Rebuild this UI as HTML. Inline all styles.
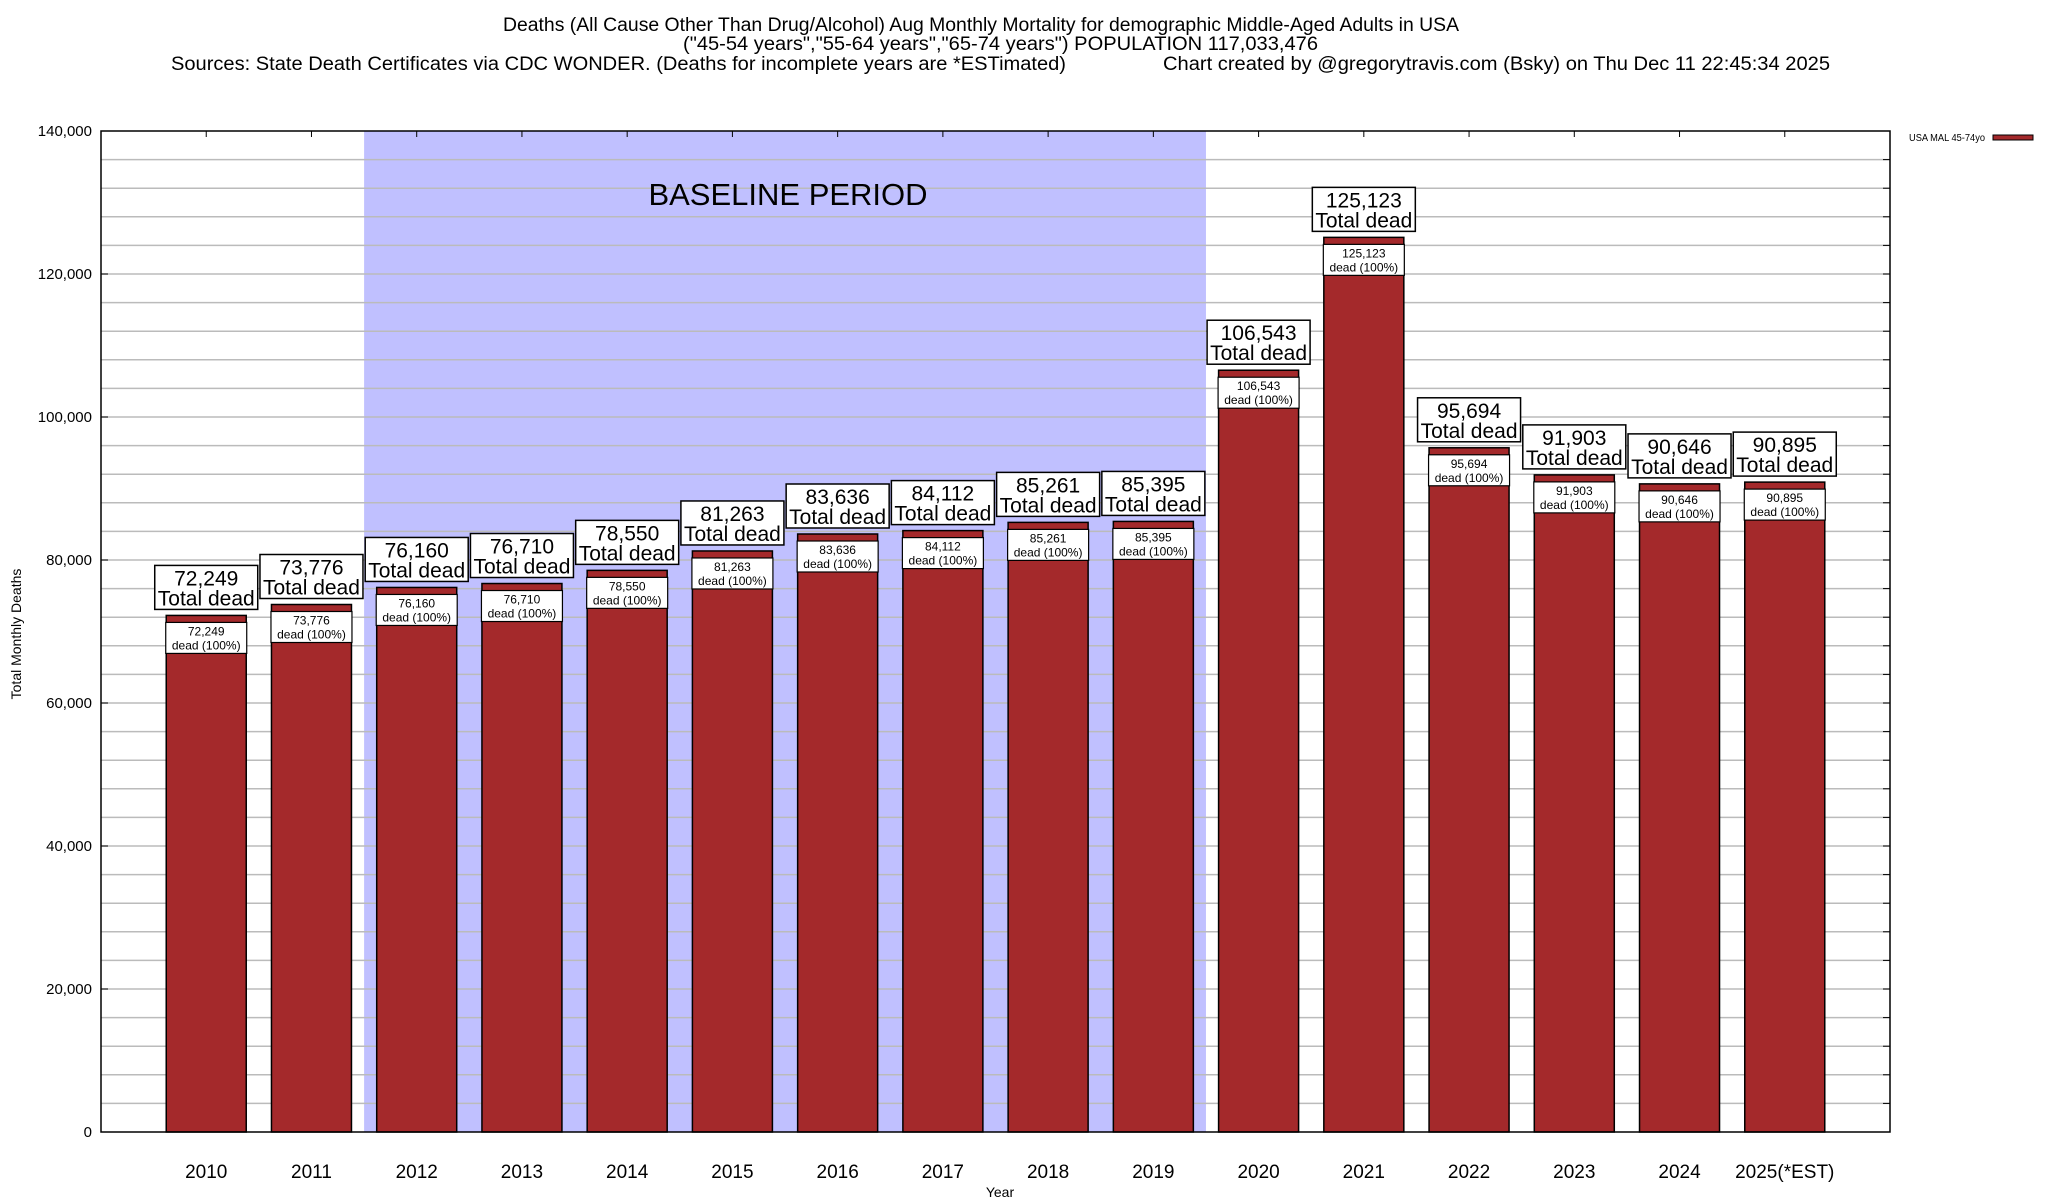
<!DOCTYPE html>
<html><head><meta charset="utf-8"><style>
html,body{margin:0;padding:0;background:#fff;}
svg{display:block;font-family:"Liberation Sans",Arial,sans-serif;}
</style></head><body>
<svg id="chart" width="2048" height="1200" viewBox="0 0 2048 1200">
<g font-size="19" fill="#000">
<text x="503" y="31" textLength="956" lengthAdjust="spacingAndGlyphs">Deaths (All Cause Other Than Drug/Alcohol) Aug Monthly Mortality for demographic Middle-Aged Adults in USA</text>
<text x="683" y="50" textLength="635" lengthAdjust="spacingAndGlyphs">("45-54 years","55-64 years","65-74 years") POPULATION 117,033,476</text>
<text x="171" y="70" textLength="895" lengthAdjust="spacingAndGlyphs">Sources: State Death Certificates via CDC WONDER. (Deaths for incomplete years are *ESTimated)</text>
<text x="1163" y="70" textLength="667" lengthAdjust="spacingAndGlyphs">Chart created by @gregorytravis.com (Bsky) on Thu Dec 11 22:45:34 2025</text>
</g>
<g id="grid"></g>
<text x="788" y="205" font-size="31" text-anchor="middle">BASELINE PERIOD</text>
<g id="bars"></g>
<g id="axes"></g>
<text x="1000" y="1197" font-size="14" text-anchor="middle">Year</text>
<text transform="translate(21,634) rotate(-90)" font-size="14" text-anchor="middle">Total Monthly Deaths</text>
<g>
<text x="1909" y="141" font-size="10" textLength="76" lengthAdjust="spacingAndGlyphs">USA MAL 45-74yo</text>
<rect x="1993" y="135" width="40" height="5" fill="#a4292b" stroke="#000" stroke-width="1"/>
</g>
</svg>
<script>
const categories=["2010","2011","2012","2013","2014","2015","2016","2017","2018","2019","2020","2021","2022","2023","2024","2025(*EST)"];
const values=[72249,73776,76160,76710,78550,81263,83636,84112,85261,85395,106543,125123,95694,91903,90646,90895];
const yTicks=[0,20000,40000,60000,80000,100000,120000,140000];
const baselineStart=2, baselineEnd=9;
const NS="http://www.w3.org/2000/svg";
const L=101,R=1890,T=131,B=1132,yMax=140000,slots=17;
const sx=i=>L+(i+1)*(R-L)/slots;
const step=(R-L)/slots;
const sy=v=>B-v*(B-T)/yMax;
const fmt=v=>v.toLocaleString("en-US");
function mk(tag,attrs,parent,text){const e=document.createElementNS(NS,tag);for(const k in attrs)e.setAttribute(k,attrs[k]);if(text!==undefined)e.textContent=text;parent.appendChild(e);return e;}
const grid=document.getElementById("grid"),bars=document.getElementById("bars"),axes=document.getElementById("axes");
const bl=mk("rect",{x:sx(baselineStart)-step/2,y:T,width:(baselineEnd-baselineStart+1)*step,height:B-T,fill:"#c0c0ff"},grid);


for(let v=4000;v<yMax;v+=4000){const y=sy(v);mk("line",{x1:L,x2:R,y1:y,y2:y,stroke:"#bbb","stroke-width":1.5},grid);mk("line",{x1:R-7,x2:R,y1:y,y2:y,stroke:"#000"},axes);}
yTicks.forEach(v=>{const y=sy(v);mk("line",{x1:L,x2:L+7,y1:y,y2:y,stroke:"#000"},axes);
const t=mk("text",{x:92,y:y+5,"font-size":15,"text-anchor":"end"},axes,fmt(v));

});
mk("rect",{x:L,y:T,width:R-L,height:B-T,fill:"none",stroke:"#000","stroke-width":1.5},axes);
categories.forEach((c,i)=>{const x=sx(i),v=values[i],y=sy(v),w=80;
mk("line",{x1:x,x2:x,y1:T,y2:T+6,stroke:"#000"},axes);
const t=mk("text",{x:x,y:1178,"font-size":19,"text-anchor":"middle"},axes,c);


const b=mk("rect",{x:x-w/2,y:y,width:w,height:B-y,fill:"#a4292b",stroke:"#000","stroke-width":1.5},bars);


const g=mk("g",{},bars);


mk("rect",{x:x-51.5,y:y-50,width:103,height:44,fill:"#fff",stroke:"#000","stroke-width":1.5},g);
mk("text",{x:x,y:y-30,"font-size":21,"text-anchor":"middle"},g,fmt(v));
mk("text",{x:x,y:y-10,"font-size":21,"text-anchor":"middle"},g,"Total dead");
mk("rect",{x:x-40.5,y:y+7,width:81,height:31,fill:"#fff",stroke:"#000","stroke-width":1.2},g);
mk("text",{x:x,y:y+20,"font-size":12,"text-anchor":"middle"},g,fmt(v));
mk("text",{x:x,y:y+34,"font-size":12,"text-anchor":"middle"},g,"dead (100%)");
});
</script>
</body></html>
